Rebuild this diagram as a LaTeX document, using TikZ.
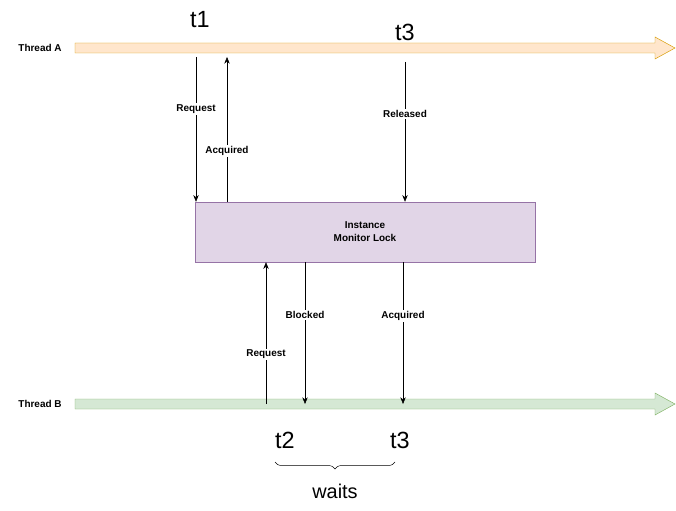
\documentclass[tikz,border=0pt]{standalone}
\usepackage{fontspec}
\setmainfont{Liberation Sans}
\usetikzlibrary{arrows.meta}
\usetikzlibrary{decorations.pathreplacing}

\definecolor{orangefill}{HTML}{FFE6CC}
\definecolor{orangeline}{HTML}{D79B00}
\definecolor{greenfill}{HTML}{D5E8D4}
\definecolor{greenline}{HTML}{82B366}
\definecolor{lockfill}{HTML}{E1D5E7}
\definecolor{lockline}{HTML}{9673A6}

\tikzset{
	msg/.style={-{Stealth[length=2mm,width=1.6mm]}, thin},
	tag/.style={fill=white, font=\fontsize{8.5}{10}\selectfont\bfseries, inner sep=1pt},
	time/.style={font=\fontsize{20}{22}\selectfont},
}

\begin{document}
\begin{tikzpicture}[x=0.03cm, y=-0.03cm]
	\useasboundingbox (0,0) rectangle (676,511);
	% threads
	\draw[orangeline, fill=orangefill] (75,43) -- (655,43) -- (655,37) -- (675,48) -- (655,59) -- (655,53) -- (75,53) -- cycle;
	\draw[greenline, fill=greenfill] (75,399) -- (655,399) -- (655,393) -- (675,404) -- (655,415) -- (655,409) -- (75,409) -- cycle;
	\node[tag, fill=none] (ta) at (40,48) {Thread A};
	\node[tag, fill=none] (tb) at (40,404) {Thread B};
	% lock
	\node[draw=lockline, fill=lockfill, minimum width=340*0.03cm, minimum height=60*0.03cm, align=center,
		font=\fontsize{8.5}{11}\selectfont\bfseries] (lock) at (365,232) {Instance\\Monitor Lock};
	% thread A
	\coordinate (a1) at (196,57);
	\coordinate (a2) at (227,57);
	\coordinate (a3) at (405,62);
	\draw[msg] (a1) -- (a1 |- lock.north) node[tag, pos=0.36] {Request};
	\draw[msg] (a2 |- lock.north) -- (a2) node[tag, pos=0.35] {Acquired};
	\draw[msg] (a3) -- (a3 |- lock.north) node[tag, pos=0.37] {Released};
	% thread B
	\coordinate (b1) at (266,404);
	\coordinate (b2) at (305,404);
	\coordinate (b3) at (403,404);
	\draw[msg] (b1) -- (b1 |- lock.south) node[tag, pos=0.35] {Request};
	\draw[msg] (b2 |- lock.south) -- (b2) node[tag, pos=0.37] {Blocked};
	\draw[msg] (b3 |- lock.south) -- (b3) node[tag, pos=0.38] {Acquired};
	% times
	\node[time] (t1) at (200,20) {t1};
	\node[time] (t3a) at (405,32) {t3};
	\node[time] (t2) at (285,440) {t2};
	\node[time] (t3b) at (400,440) {t3};
	\draw[decorate, decoration={brace, mirror, amplitude=6pt}] (275,462) -- (395,462);
	\node[time, font=\fontsize{17}{19}\selectfont] (waits) at (335,491) {waits};
\end{tikzpicture}
\end{document}
